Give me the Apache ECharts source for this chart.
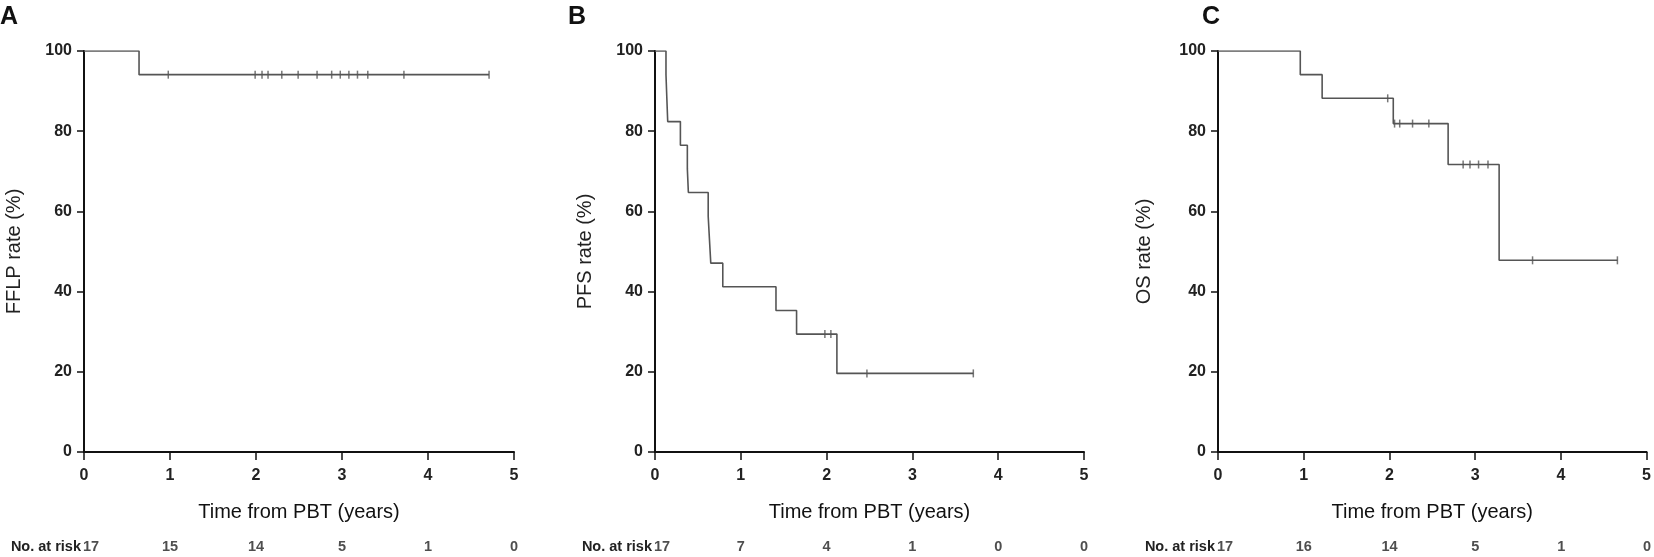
<!DOCTYPE html>
<html>
<head>
<meta charset="utf-8">
<script src="https://cdn.jsdelivr.net/npm/echarts@6/dist/echarts.min.js"></script>
<style>html,body{margin:0;padding:0;background:#fff}#c{width:1654px;height:557px}</style>
</head>
<body>
<div id="c"></div>
<script>
// ---- data ----
const panelLetters = ['A', 'B', 'C'];
const yTitles = ['FFLP rate (%)', 'PFS rate (%)', 'OS rate (%)'];
const xTitle = 'Time from PBT (years)';
const riskLabel = 'No. at risk';
const riskTimes = [0, 1, 2, 3, 4, 5];

// Panel A: FFLP
const aTimes = [0, 0.64, 4.71];
const aSurv  = [100, 94.1, 94.1];
const aCensT = [0.98, 1.99, 2.07, 2.14, 2.30, 2.49, 2.71, 2.88, 2.98, 3.08, 3.18, 3.30, 3.72, 4.71];
const aCensV = [94.1, 94.1, 94.1, 94.1, 94.1, 94.1, 94.1, 94.1, 94.1, 94.1, 94.1, 94.1, 94.1, 94.1];
const aRisk  = [17, 15, 14, 5, 1, 0];

// Panel B: PFS
const bTimes = [0, 0.128, 0.138, 0.148, 0.296, 0.377, 0.389, 0.62, 0.635, 0.65, 0.79, 1.41, 1.65, 2.12, 3.71];
const bSurv  = [100, 94.1, 88.2, 82.4, 76.5, 70.6, 64.7, 58.8, 52.9, 47.1, 41.2, 35.3, 29.4, 19.6, 19.6];
const bCensT = [1.98, 2.05, 2.47, 3.71];
const bCensV = [29.4, 29.4, 19.6, 19.6];
const bRisk  = [17, 7, 4, 1, 0, 0];

// Panel C: OS
const cTimes = [0, 0.96, 1.215, 2.045, 2.685, 3.28, 4.66];
const cSurv  = [100, 94.1, 88.2, 81.9, 71.7, 47.8, 47.8];
const cCensT = [1.98, 2.06, 2.12, 2.27, 2.46, 2.86, 2.94, 3.04, 3.15, 3.67, 4.66];
const cCensV = [88.2, 81.9, 81.9, 81.9, 81.9, 71.7, 71.7, 71.7, 71.7, 47.8, 47.8];
const cRisk  = [17, 16, 14, 5, 1, 0];

// ---- layout ----
const FONT = '"Liberation Sans", Arial, sans-serif';
const panels = [
  {times: aTimes, surv: aSurv, censT: aCensT, censV: aCensV, risk: aRisk, left: 84,   width: 430, letterX: 0,    nameGap: 60},
  {times: bTimes, surv: bSurv, censT: bCensT, censV: bCensV, risk: bRisk, left: 655,  width: 429, letterX: 568,  nameGap: 60},
  {times: cTimes, surv: cSurv, censT: cCensT, censV: cCensV, risk: cRisk, left: 1218, width: 429, letterX: 1202, nameGap: 64}
];
const TOP = 51, H = 401;

const zip = (xs, ys) => xs.map((x, i) => [x, ys[i]]);

const grid = [], xAxis = [], yAxis = [], series = [], graphic = [];
panels.forEach((p, i) => {
  grid.push({left: p.left, top: TOP, width: p.width, height: H});
  grid.push({left: p.left, top: 537, width: p.width, height: 20});
  const gi = i * 2;
  xAxis.push({
    gridIndex: gi, type: 'value', min: 0, max: 5, interval: 1,
    name: xTitle, nameLocation: 'middle', nameGap: 50,
    nameTextStyle: {fontFamily: FONT, fontSize: 20, color: '#111'},
    axisLine: {onZero: false, lineStyle: {color: '#111', width: 2}},
    axisTick: {length: 8, lineStyle: {color: '#111', width: 1.5}},
    axisLabel: {fontFamily: FONT, fontSize: 16, fontWeight: 'bold', color: '#222', margin: 16},
    splitLine: {show: false}
  });
  yAxis.push({
    gridIndex: gi, type: 'value', min: 0, max: 100, interval: 20,
    name: yTitles[i], nameLocation: 'middle', nameGap: p.nameGap,
    nameTextStyle: {fontFamily: FONT, fontSize: 20, color: '#222'},
    axisLine: {show: true, onZero: false, lineStyle: {color: '#111', width: 2}},
    axisTick: {show: true, length: 7, lineStyle: {color: '#111', width: 1.5}},
    axisLabel: {fontFamily: FONT, fontSize: 16, fontWeight: 'bold', color: '#222', margin: 12},
    splitLine: {show: false}
  });
  xAxis.push({gridIndex: gi + 1, type: 'value', min: 0, max: 5, show: false});
  yAxis.push({gridIndex: gi + 1, type: 'value', min: 0, max: 1, show: false});

  series.push({
    type: 'line', xAxisIndex: gi, yAxisIndex: gi, step: 'end',
    data: zip(p.times, p.surv), showSymbol: false, symbol: 'none',
    lineStyle: {color: '#555', width: 1.6}, animation: false, silent: true
  });
  series.push({
    type: 'scatter', xAxisIndex: gi, yAxisIndex: gi,
    data: zip(p.censT, p.censV), symbol: 'rect', symbolSize: [1.5, 8],
    itemStyle: {color: '#555'}, animation: false, silent: true
  });
  series.push({
    type: 'scatter', xAxisIndex: gi + 1, yAxisIndex: gi + 1,
    data: riskTimes.map((t, k) => k === 0
      ? {value: [t, 0.5, p.risk[k]], label: {align: 'left', offset: [-1, 0]}}
      : {value: [t, 0.5, p.risk[k]]}),
    symbolSize: 0,
    label: {show: true, position: 'inside', formatter: d => String(d.value[2]),
            fontFamily: FONT, fontSize: 14.5, fontWeight: 'bold', color: '#222'},
    animation: false, silent: true
  });
  graphic.push({type: 'text', left: p.letterX, top: 5,
    style: {text: panelLetters[i], font: 'bold 25px "Liberation Sans", Arial, sans-serif', fill: '#111'}});
  graphic.push({type: 'text', x: p.left - 3, y: 547,
    style: {text: riskLabel, textAlign: 'right', textVerticalAlign: 'middle',
            font: 'bold 14.5px ' + FONT, fill: '#222'}});
});

const chart = echarts.init(document.getElementById('c'), null, {renderer: 'canvas'});
chart.setOption({animation: false, grid, xAxis, yAxis, series, graphic});
</script>
</body>
</html>
